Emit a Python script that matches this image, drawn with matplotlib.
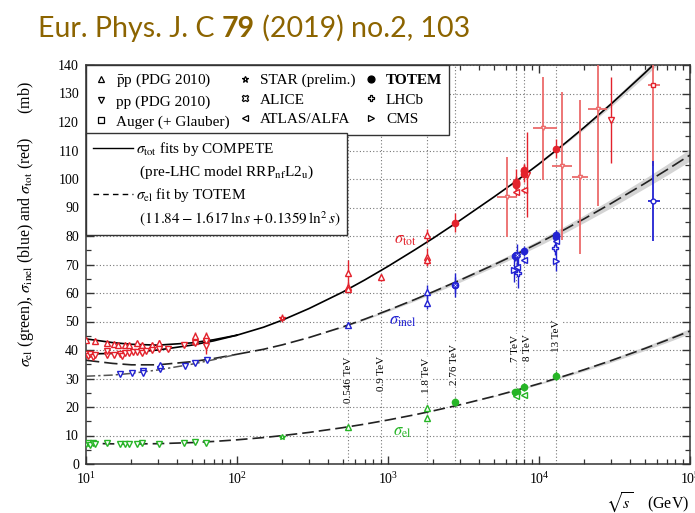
import matplotlib
matplotlib.use('Agg')
import matplotlib.pyplot as plt
from matplotlib.lines import Line2D
from matplotlib.ticker import LogLocator, MultipleLocator, NullFormatter
import numpy as np

plt.rcParams['font.family'] = 'serif'
plt.rcParams['font.serif'] = ['Liberation Serif', 'DejaVu Serif']
plt.rcParams['mathtext.fontset'] = 'stix'

# --- fit curves: sqrt(s) in GeV, cross sections in mb ---
fit_s_low = [10, 15, 20, 30, 50, 70, 100]
tot_fit_pp_low = [38.6, 38.8, 39.2, 40.0, 41.7, 43.2, 45.2]
tot_fit_pbarp_low = [43.9, 42.6, 42.0, 41.7, 42.5, 43.6, 45.2]
inel_fit_pp_low = [30.8, 31.2, 31.8, 33.0, 35.0, 36.6, 38.5]
inel_fit_pbarp_low = [36.4, 35.3, 34.8, 34.8, 35.9, 37.0, 38.5]

fit_s = [100, 150, 200, 300, 500, 700, 1000, 1500, 2000, 3000, 5000, 7000,
         10000, 15000, 20000, 30000, 50000, 70000, 100000]
tot_fit = [45.2, 48.0, 50.5, 54.55, 60.3, 64.55, 69.35, 75.1, 79.3, 85.5, 93.6, 99.1,
           105.3, 112.7, 118.2, 126.3, 137.1, 144.5, 152.7]
tot_band = [0, 0, 0, 0, 0, 0, 0, 0, 0, 0, 0, 0, 0.2, 0.4, 0.6, 0.9, 1.2, 1.5, 1.8]
inel_fit = [38.5, 40.26, 41.82, 44.37, 48.08, 50.81, 53.94, 57.69, 60.47, 64.52, 69.85,
            73.5, 77.58, 82.46, 86.09, 91.41, 98.4, 103.17, 108.41]
inel_band = [0, 0, 0, 0, 0.2, 0.3, 0.4, 0.5, 0.6, 0.7, 0.8, 0.9, 1.0, 1.2, 1.3, 1.5,
             1.7, 1.9, 2.1]

el_fit_s = [10, 15, 20, 30, 50, 70] + fit_s
el_fit = [7.28, 7.07, 7.03, 7.13, 7.51, 7.91, 8.48, 9.28, 9.97, 11.08, 12.74, 13.98,
          15.44, 17.26, 18.67, 20.79, 23.73, 25.82, 28.17, 31.01, 33.13, 36.27,
          40.49, 43.42, 46.66]
el_band = [0] * 16 + [0.1, 0.2, 0.3, 0.4, 0.5, 0.6, 0.7, 0.8, 0.9]

# --- measurements ---
tot_sqrt_s = [10.0, 11.5, 13.8, 15.3, 16.3, 18.2, 19.4, 21.7, 23.5, 27.4, 30.4, 52.6, 52.6, 62.3, 62.3,
              10.0, 10.3, 10.7, 11.1, 11.5, 13.8, 13.8, 15.3, 16.8, 17.3, 18.2, 19.4, 20.5, 21.7,
              23.0, 23.5, 25.0, 27.4, 30.6, 35.0, 44.7, 52.8, 62.5, 62.5,
              200, 546, 546, 546, 900, 1800, 1800, 1800,
              2760, 7000, 7000, 7000, 7000, 8000, 8000, 8000, 13000,
              7000, 8000, 8300, 30000]
tot_value = [43.6, 43.2, 42.3, 42.0, 41.9, 41.7, 41.9, 42.3, 41.7, 41.9, 42.6, 43.0, 45.0, 44.2, 44.8,
             38.5, 38.0, 38.7, 37.4, 38.3, 38.3, 39.7, 38.1, 38.6, 38.0, 39.0, 38.8, 39.2, 39.3,
             39.6, 39.0, 39.7, 40.0, 40.3, 40.5, 41.8, 42.4, 43.0, 41.5,
             51.2, 67.0, 62.2, 61.3, 65.5, 80.2, 72.8, 71.5,
             84.7, 98.3, 98.6, 99.1, 98.0, 101.7, 102.9, 103.0, 110.6,
             95.4, 96.1, 101.5, 120.7]
tot_error = [0.6, 0.5, 0.5, 0.4, 0.4, 0.4, 0.4, 0.4, 0.4, 0.5, 0.8, 0.7, 1.2, 1.0, 1.5,
             0.4, 0.4, 0.4, 0.8, 0.4, 0.8, 0.8, 0.4, 0.8, 0.4, 0.6, 0.4, 0.4, 0.4,
             0.6, 0.5, 0.4, 0.4, 0.5, 0.4, 0.5, 0.5, 0.8, 3.0,
             1.3, 4.5, 1.5, 0.9, 1.2, 2.2, 3.0, 2.0,
             3.3, 2.8, 2.2, 4.3, 2.5, 2.9, 2.3, 2.3, 3.4,
             1.4, 0.9, 15.0, 15.0]
tot_source = ['pbarp'] * 15 + ['pp'] * 24 + ['STAR'] + ['pbarp'] * 7 + ['TOTEM'] * 9 + \
             ['ATLAS', 'ATLAS', 'pp', 'pp']

# cosmic-ray values with energy ranges
cosmic_sqrt_s = [6170, 10600, 14100, 18700, 24700]
cosmic_sqrt_s_lo = [5250, 9170, 12130, 16470, 21230]
cosmic_sqrt_s_hi = [7110, 13100, 16470, 21230, 28050]
cosmic_tot = [93.6, 117.8, 104.6, 100.6, 124.6]
cosmic_tot_err = [14, 18, 26, 27, 34]

# Auger (+ Glauber) at 57 TeV
auger_sqrt_s = [57000]
auger_sqrt_s_lo = [52970]
auger_sqrt_s_hi = [63260]
auger_tot = [133.0]
auger_tot_err = [28.5]
auger_inel = [92.4]
auger_inel_err = [14.0]

inel_sqrt_s = [16.8, 20.1, 24.0, 24.0, 30.9, 45.3, 52.7, 63.0, 30.9,
               546, 1800, 1800,
               2760, 7000, 6900, 8000, 13000, 13000,
               2760, 7100,
               7200, 8000, 13000,
               6800, 13000,
               7300, 12800]
inel_value = [31.6, 32.0, 32.6, 31.8, 33.2, 34.5, 35.5, 36.5, 34.7,
              48.7, 60.3, 56.6,
              62.8, 73.2, 72.9, 74.7, 79.5, 80.5,
              62.8, 73.2,
              69.1, 71.7, 78.1,
              68.0, 71.3,
              66.9, 75.7]
inel_error = [0.5, 0.5, 0.6, 0.6, 0.7, 0.5, 0.6, 0.8, 0.7,
              1.0, 2.4, 2.2,
              2.9, 1.3, 1.5, 1.7, 1.8, 1.6,
              4.2, 4.0,
              2.4, 1.0, 2.9,
              4.0, 3.5,
              5.3, 2.5]
inel_source = ['pp'] * 8 + ['pbarp'] + ['pbarp'] * 3 + ['TOTEM'] * 6 + ['ALICE'] * 2 + \
              ['ATLAS'] * 3 + ['CMS'] * 2 + ['LHCb'] * 2

el_sqrt_s = [10.0, 10.3, 10.7, 11.1, 11.5, 13.8, 16.8, 18.2, 19.4, 21.7, 23.5, 30.6, 44.7, 52.8, 62.5,
             200, 546, 1800, 1800,
             2760, 6900, 7000, 7100, 8000, 13000,
             7000, 8000]
el_value = [7.0, 7.3, 6.8, 7.2, 6.9, 7.3, 7.1, 7.0, 6.9, 7.0, 7.2, 7.1, 7.2, 7.6, 7.5,
            9.6, 13.1, 19.7, 16.3,
            21.8, 25.1, 24.8, 25.4, 27.1, 31.0,
            24.0, 24.3]
el_error = [0.3, 0.3, 0.3, 0.3, 0.3, 0.3, 0.2, 0.2, 0.2, 0.2, 0.3, 0.2, 0.2, 0.3, 0.3,
            0.4, 0.6, 0.9, 1.0,
            1.4, 1.1, 1.2, 1.1, 1.4, 1.7,
            0.6, 0.4]
el_source = ['pp'] * 15 + ['STAR'] + ['pbarp'] * 3 + ['TOTEM'] * 6 + ['ATLAS'] * 2

energy_lines = [546, 900, 1800, 2760, 7000, 8000, 13000]
energy_labels = ['0.546 TeV', '0.9 TeV', '1.8 TeV', '2.76 TeV', '7 TeV', '8 TeV', '13 TeV']

RED = '#e3222c'
RED_LIGHT = '#ec6b6b'
BLUE = '#2222d2'
GREEN = '#26b526'

markers = {'pbarp': ('^', False), 'pp': ('v', False), 'TOTEM': ('o', True),
           'STAR': ('*', False), 'ALICE': ('X', False), 'LHCb': ('P', False),
           'ATLAS': ('<', False), 'CMS': ('>', False), 'Auger': ('s', False)}

fig = plt.figure(figsize=(6.95, 5.13), dpi=100)
fig.patch.set_facecolor('white')
ax = fig.add_axes([86 / 695, 49 / 513, 604 / 695, 399 / 513])


def draw_points(s, val, err, src, color):
    ax.errorbar(s, val, yerr=err, fmt='none', ecolor=color, elinewidth=1.0, capsize=0, zorder=4)
    for key in dict.fromkeys(src):
        idx = [i for i, k in enumerate(src) if k == key]
        m, filled = markers[key]
        ax.plot([s[i] for i in idx], [val[i] for i in idx], ls='none', marker=m,
                ms=4.5 if filled else 3.8, mfc=color if filled else 'white',
                mec=color, mew=1.0, zorder=5)


# uncertainty bands of the fits
ax.fill_between(fit_s, np.subtract(tot_fit, tot_band), np.add(tot_fit, tot_band),
                color='#d4d4d4', lw=0, zorder=1)
ax.fill_between(fit_s, np.subtract(inel_fit, inel_band), np.add(inel_fit, inel_band),
                color='#d4d4d4', lw=0, zorder=1)
ax.fill_between(el_fit_s, np.subtract(el_fit, el_band), np.add(el_fit, el_band),
                color='#d4d4d4', lw=0, zorder=1)

# fit curves
ax.plot(fit_s, tot_fit, color='black', lw=1.2, zorder=3)
ax.plot(fit_s_low, tot_fit_pp_low, color='black', lw=1.2, zorder=3)
ax.plot(fit_s_low, tot_fit_pbarp_low, color='black', lw=1.2, zorder=3)
ax.plot(fit_s, inel_fit, color='#222222', lw=1.2, dashes=(8, 3), zorder=3)
ax.plot(fit_s_low, inel_fit_pbarp_low, color='#222222', lw=1.2, dashes=(8, 3), zorder=3)
ax.plot(fit_s_low, inel_fit_pp_low, color='#555555', lw=1.1, dashes=(6, 2, 1.5, 2), zorder=3)
ax.plot(el_fit_s, el_fit, color='#222222', lw=1.2, dashes=(7, 3), zorder=3)

# data
draw_points(tot_sqrt_s, tot_value, tot_error, tot_source, RED)
draw_points(inel_sqrt_s, inel_value, inel_error, inel_source, BLUE)
draw_points(el_sqrt_s, el_value, el_error, el_source, GREEN)

cs = np.array(cosmic_sqrt_s)
ax.errorbar(cs, cosmic_tot, yerr=cosmic_tot_err,
            xerr=[cs - np.array(cosmic_sqrt_s_lo), np.array(cosmic_sqrt_s_hi) - cs],
            fmt='v', ms=3, mfc='white', mec=RED_LIGHT, ecolor=RED_LIGHT, elinewidth=1.3,
            capsize=0, zorder=4)
aus = np.array(auger_sqrt_s)
auger_xerr = [aus - np.array(auger_sqrt_s_lo), np.array(auger_sqrt_s_hi) - aus]
ax.errorbar(aus, auger_tot, yerr=auger_tot_err, xerr=auger_xerr, fmt='s', ms=3.5,
            mfc='white', mec=RED, ecolor=RED_LIGHT, elinewidth=1.3, capsize=0, zorder=4)
ax.errorbar(aus, auger_inel, yerr=auger_inel_err, xerr=auger_xerr, fmt='o', ms=3.5,
            mfc='white', mec=BLUE, ecolor=BLUE, elinewidth=1.3, capsize=0, zorder=4)

# energy markers; the 8 TeV label sits just right of its line so it clears 7 TeV
label_x = [546, 900, 1800, 2760, 6950, 8400, 13000]
label_y = [29.5, 31.9, 31.2, 35.0, 40.7, 41.0, 45.0]
for e in energy_lines:
    ax.axvline(e, color='#777777', lw=0.8, ls=(0, (1, 2)), zorder=0)
for x, y, lab in zip(label_x, label_y, energy_labels):
    ax.text(x, y, lab, rotation=90, ha='center', va='center', fontsize=8, zorder=6,
            bbox=dict(facecolor='white', edgecolor='none', pad=0.3))

ax.text(1297, 78.6, r'$\sigma_{\rm tot}$', color=RED, fontsize=12, ha='center', va='center')
ax.text(1257, 50.2, r'$\sigma_{\rm inel}$', color=BLUE, fontsize=12, ha='center', va='center')
ax.text(1239, 11.2, r'$\sigma_{\rm el}$', color=GREEN, fontsize=12, ha='center', va='center')

# axes
ax.set_xscale('log')
ax.set_xlim(10, 1e5)
ax.set_ylim(0, 140)
ax.yaxis.set_major_locator(MultipleLocator(10))
ax.yaxis.set_minor_locator(MultipleLocator(5))
ax.xaxis.set_minor_locator(LogLocator(base=10, subs=np.arange(2, 10)))
ax.xaxis.set_minor_formatter(NullFormatter())
ax.yaxis.grid(True, which='major', color='#777777', lw=0.8, ls=(0, (1, 2)))
ax.set_axisbelow(True)
ax.tick_params(which='both', direction='in', top=True, right=True, labelsize=10,
               color='#333333')
ax.tick_params(which='major', length=6, width=1.0, pad=5)
ax.tick_params(which='minor', length=3.5, width=0.9)
for sp in ax.spines.values():
    sp.set_color('#333333')
    sp.set_linewidth(1.1)


def handle(key):
    m, filled = markers[key]
    return Line2D([], [], ls='none', marker=m, ms=5, mfc='black' if filled else 'none',
                  mec='black', mew=0.9)


leg_keys = ['pbarp', 'pp', 'Auger', 'STAR', 'ALICE', 'ATLAS', 'TOTEM', 'LHCb', 'CMS']
leg_labels = [r'$\bar{\rm p}$p (PDG 2010)', 'pp (PDG 2010)', 'Auger (+ Glauber)',
              'STAR (prelim.)', 'ALICE', 'ATLAS/ALFA', 'TOTEM', 'LHCb', 'CMS']
leg1 = ax.legend([handle(k) for k in leg_keys], leg_labels, ncol=3, loc='upper left',
                 bbox_to_anchor=(0, 1), borderaxespad=0, fancybox=False, framealpha=1,
                 edgecolor='#333333', fontsize=11, handlelength=1.0, handletextpad=0.5,
                 columnspacing=0.5, borderpad=0.45, labelspacing=0.38)
leg1.get_frame().set_linewidth(1.0)
leg1.get_texts()[6].set_fontweight('bold')
leg1.set_zorder(10)
ax.add_artist(leg1)

fit_handles = [Line2D([], [], color='black', lw=1.0), Line2D([], [], color='none'),
               Line2D([], [], color='black', lw=1.0, dashes=(4, 3)), Line2D([], [], color='none')]
fit_labels = [r'$\sigma_{\rm tot}$ fits by COMPETE',
              r' (pre-LHC model RRP$_{\rm nf}$L2$_{\rm u}$)',
              r'$\sigma_{\rm el}$ fit by TOTEM',
              r' $(11.84 - 1.617\,\ln s + 0.1359\,\ln^2 s)$']
leg2 = ax.legend(fit_handles, fit_labels, loc='upper left', bbox_to_anchor=(0, 0.8296),
                 borderaxespad=0, fancybox=False, framealpha=1, edgecolor='#333333',
                 fontsize=11, handlelength=2.6, handletextpad=0.2, borderpad=0.45,
                 labelspacing=0.35)
leg2.get_frame().set_linewidth(1.0)
leg2.set_zorder(10)

fig.text(26 / 695, 1 - 224 / 513,
         r'$\sigma_{\rm el}$ (green), $\sigma_{\rm inel}$ (blue) and $\sigma_{\rm tot}$ (red)      (mb)',
         rotation=90, ha='center', va='center', fontsize=11.5)
fig.text(689 / 695, 1 - 503 / 513, r'$\sqrt{s}$    (GeV)', ha='right', va='center',
         fontsize=11.5)

# journal reference, with the volume number in bold
renderer = fig.canvas.get_renderer()
x = 38 / 695
for part, weight in [('Eur. Phys. J. C ', 'normal'), ('79', 'bold'), (' (2019) no.2, 103', 'normal')]:
    t = fig.text(x, 1 - 37 / 513, part, fontsize=20.5, family='Lato', weight=weight,
                 color='#8c6400', ha='left', va='baseline')
    x = t.get_window_extent(renderer=renderer).x1 / fig.bbox.width

fig.savefig('out.png', dpi=100)
